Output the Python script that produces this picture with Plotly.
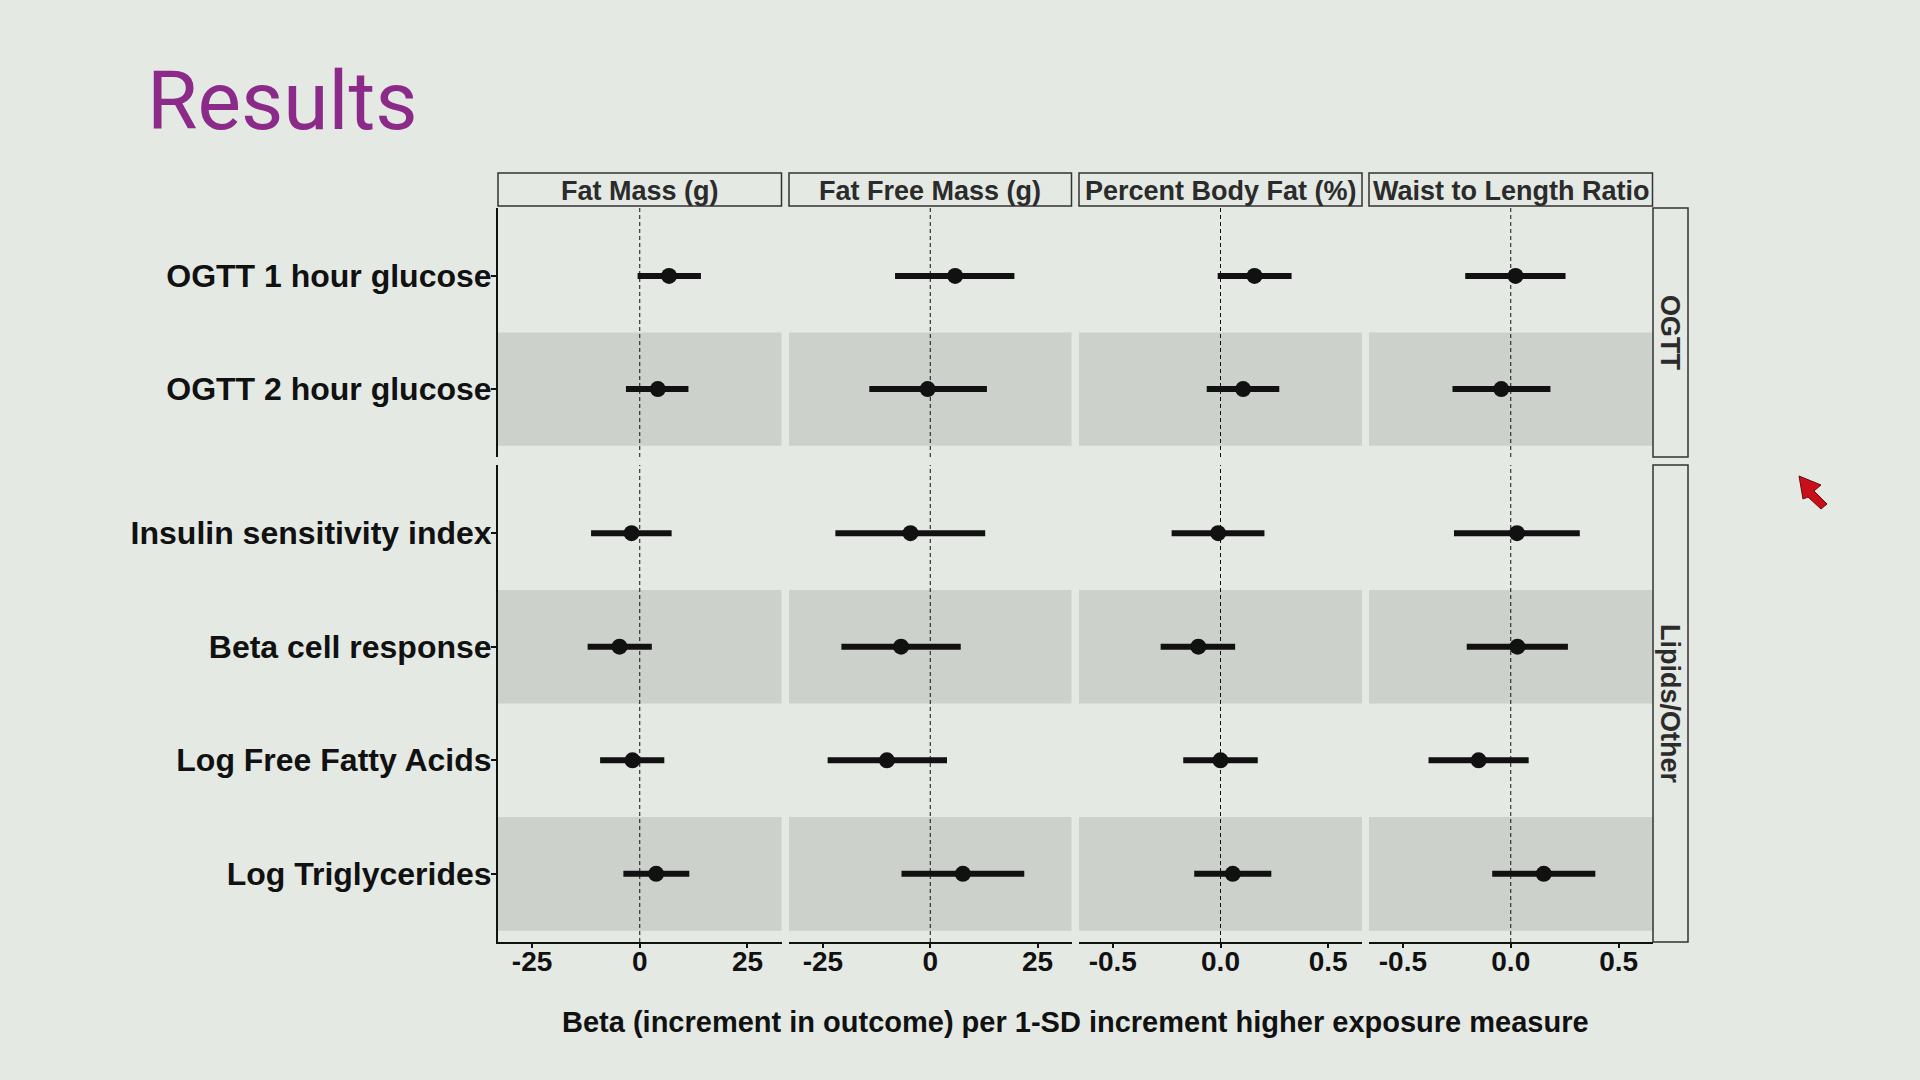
import plotly.graph_objects as go
from plotly.subplots import make_subplots

# page size (figure drawn with zero margins, so paper coords map to pixels)
W, H = 1920, 1080

# --- data ---
exposures = ["Fat Mass (g)", "Fat Free Mass (g)", "Percent Body Fat (%)", "Waist to Length Ratio"]
groups = ["OGTT", "Lipids/Other"]
ogtt_outcomes = ["OGTT 1 hour glucose", "OGTT 2 hour glucose"]
lipid_outcomes = ["Insulin sensitivity index", "Beta cell response",
                  "Log Free Fatty Acids", "Log Triglycerides"]

# order of values: ogtt outcomes then lipid outcomes
fat_mass_beta = [6.8, 4.2, -1.9, -4.7, -1.7, 3.8]
fat_mass_lo = [-0.5, -3.2, -11.3, -12.1, -9.2, -3.8]
fat_mass_hi = [14.2, 11.3, 7.4, 2.8, 5.7, 11.5]

ffm_beta = [5.8, -0.6, -4.6, -6.8, -10.1, 7.6]
ffm_lo = [-8.2, -14.2, -22.1, -20.7, -23.9, -6.7]
ffm_hi = [19.6, 13.2, 12.8, 7.1, 3.9, 21.9]

pbf_beta = [0.158, 0.105, -0.011, -0.103, 0.0, 0.057]
pbf_lo = [-0.013, -0.064, -0.227, -0.278, -0.173, -0.122]
pbf_hi = [0.33, 0.273, 0.204, 0.068, 0.173, 0.236]

wlr_beta = [0.022, -0.044, 0.029, 0.031, -0.149, 0.153]
wlr_lo = [-0.211, -0.27, -0.263, -0.204, -0.381, -0.086]
wlr_hi = [0.254, 0.184, 0.32, 0.265, 0.083, 0.392]

mass_ticks = [-25, 0, 25]
mass_ticktext = ["-25", "0", "25"]
ratio_ticks = [-0.5, 0.0, 0.5]
ratio_ticktext = ["-0.5", "0.0", "0.5"]

betas = [fat_mass_beta, ffm_beta, pbf_beta, wlr_beta]
lows = [fat_mass_lo, ffm_lo, pbf_lo, wlr_lo]
highs = [fat_mass_hi, ffm_hi, pbf_hi, wlr_hi]
group_outcomes = [ogtt_outcomes, lipid_outcomes]

# --- styling ---
BG = "#e4e9e3"
BAND = "#cdd1cb"
INK = "#111111"
STRIP_INK = "#2b2b2b"
PURPLE = "#8b2a89"
FONT = "Liberation Sans, Arial, sans-serif"

x_ranges = [[-32.9, 32.9], [-32.9, 32.9], [-0.657, 0.657], [-0.657, 0.657]]
x_ticks = [(mass_ticks, mass_ticktext)] * 2 + [(ratio_ticks, ratio_ticktext)] * 2

# panel positions in pixels
col_px = [(498, 781.5), (789, 1071.5), (1079, 1362), (1369, 1652.5)]
row_px = [(208, 457), (465, 942)]
strip_top = (173, 206)
right_strip = (1653, 1688)


def px_x(p):
    return p / W


def px_y(p):
    return 1 - p / H


fig = make_subplots(rows=2, cols=4)

for r, outs in enumerate(group_outcomes):
    n = len(outs)
    offset = 0 if r == 0 else len(ogtt_outcomes)
    ypos = [n - i for i in range(n)]
    for c in range(4):
        k = r * 4 + c + 1
        xa = "x" if k == 1 else "x%d" % k
        ya = "y" if k == 1 else "y%d" % k
        b = betas[c][offset:offset + n]
        lo = lows[c][offset:offset + n]
        hi = highs[c][offset:offset + n]

        # shaded alternate rows
        for i in range(n):
            if i % 2 == 1:
                fig.add_shape(type="rect", xref=xa + " domain", x0=0, x1=1,
                              yref=ya, y0=ypos[i] - 0.5, y1=ypos[i] + 0.5,
                              fillcolor=BAND, line_width=0, layer="below")
        # reference line at zero
        fig.add_shape(type="line", xref=xa, x0=0, x1=0, yref=ya + " domain", y0=0, y1=1,
                      line=dict(color=INK, width=1, dash="4px,3px"), layer="below")

        fig.add_trace(
            go.Scatter(
                x=b, y=ypos, mode="markers",
                marker=dict(size=16, color=INK),
                error_x=dict(type="data", symmetric=False,
                             array=[h - v for h, v in zip(hi, b)],
                             arrayminus=[v - l for v, l in zip(b, lo)],
                             thickness=6, width=0, color=INK),
                showlegend=False, hoverinfo="x+y",
            ),
            row=r + 1, col=c + 1,
        )

        fig.update_xaxes(
            domain=[px_x(col_px[c][0]), px_x(col_px[c][1])],
            range=x_ranges[c],
            tickvals=x_ticks[c][0], ticktext=x_ticks[c][1],
            showticklabels=(r == 1), ticks="outside" if r == 1 else "",
            ticklen=4, tickwidth=1.5, tickcolor=INK, ticklabelstandoff=-11,
            showline=(r == 1), linecolor=INK, linewidth=2,
            showgrid=False, zeroline=False,
            tickfont=dict(family=FONT, size=28, color=INK, weight="bold"),
            row=r + 1, col=c + 1,
        )
        fig.update_yaxes(
            domain=[px_y(row_px[r][1]), px_y(row_px[r][0])],
            range=[0.4, n + 0.6],
            tickvals=ypos, ticktext=outs,
            showticklabels=(c == 0), ticks="outside" if c == 0 else "",
            ticklen=5, tickwidth=1.5, tickcolor=INK, ticklabelstandoff=-7,
            showline=(c == 0), linecolor=INK, linewidth=2,
            showgrid=False, zeroline=False,
            tickfont=dict(family=FONT, size=32, color=INK, weight="bold"),
            row=r + 1, col=c + 1,
        )

# top strips with exposure names
for c, name in enumerate(exposures):
    fig.add_shape(type="rect", xref="paper", yref="paper",
                  x0=px_x(col_px[c][0]), x1=px_x(col_px[c][1]),
                  y0=px_y(strip_top[1]), y1=px_y(strip_top[0]),
                  line=dict(color="#333333", width=1.5), fillcolor=BG)
    fig.add_annotation(text=name, xref="paper", yref="paper",
                       x=px_x((col_px[c][0] + col_px[c][1]) / 2),
                       y=px_y((strip_top[0] + strip_top[1]) / 2 + 1),
                       showarrow=False, xanchor="center", yanchor="middle",
                       font=dict(family=FONT, size=27, color=STRIP_INK, weight="bold"))

# right strips with group names
for r, g in enumerate(groups):
    fig.add_shape(type="rect", xref="paper", yref="paper",
                  x0=px_x(right_strip[0]), x1=px_x(right_strip[1]),
                  y0=px_y(row_px[r][1]), y1=px_y(row_px[r][0]),
                  line=dict(color="#333333", width=1.5), fillcolor=BG)
    fig.add_annotation(text=g, xref="paper", yref="paper", textangle=90,
                       x=px_x((right_strip[0] + right_strip[1]) / 2),
                       y=px_y((row_px[r][0] + row_px[r][1]) / 2),
                       showarrow=False, xanchor="center", yanchor="middle",
                       font=dict(family=FONT, size=27, color=STRIP_INK, weight="bold"))

# shared x-axis title
fig.add_annotation(text="Beta (increment in outcome) per 1-SD increment higher exposure measure",
                   xref="paper", yref="paper",
                   x=px_x((col_px[0][0] + col_px[3][1]) / 2), y=px_y(1022),
                   showarrow=False, xanchor="center", yanchor="middle",
                   font=dict(family=FONT, size=29, color=INK, weight="bold"))

# slide title
fig.add_annotation(text="Results", xref="paper", yref="paper",
                   x=px_x(145), y=px_y(101), showarrow=False,
                   xanchor="left", yanchor="middle",
                   font=dict(family="Roboto, sans-serif", size=82, color=PURPLE))

# mouse pointer left on the slide
ptr = [(1799, 476), (1821, 485), (1814, 491), (1827, 504), (1821, 509),
       (1808, 497), (1803, 499)]
path = "M " + " L ".join("%.5f,%.5f" % (px_x(a), px_y(b)) for a, b in ptr) + " Z"
fig.add_shape(type="path", xref="paper", yref="paper", path=path,
              fillcolor="#c8101a", line=dict(color="#6a0a0e", width=1))

fig.update_layout(
    width=W, height=H,
    margin=dict(l=0, r=0, t=0, b=0),
    paper_bgcolor=BG, plot_bgcolor=BG,
    font=dict(family=FONT, color=INK),
)

fig.write_html("out.html", config={"displayModeBar": False},
               post_script="document.body.style.margin='0';document.body.style.overflow='hidden';")
